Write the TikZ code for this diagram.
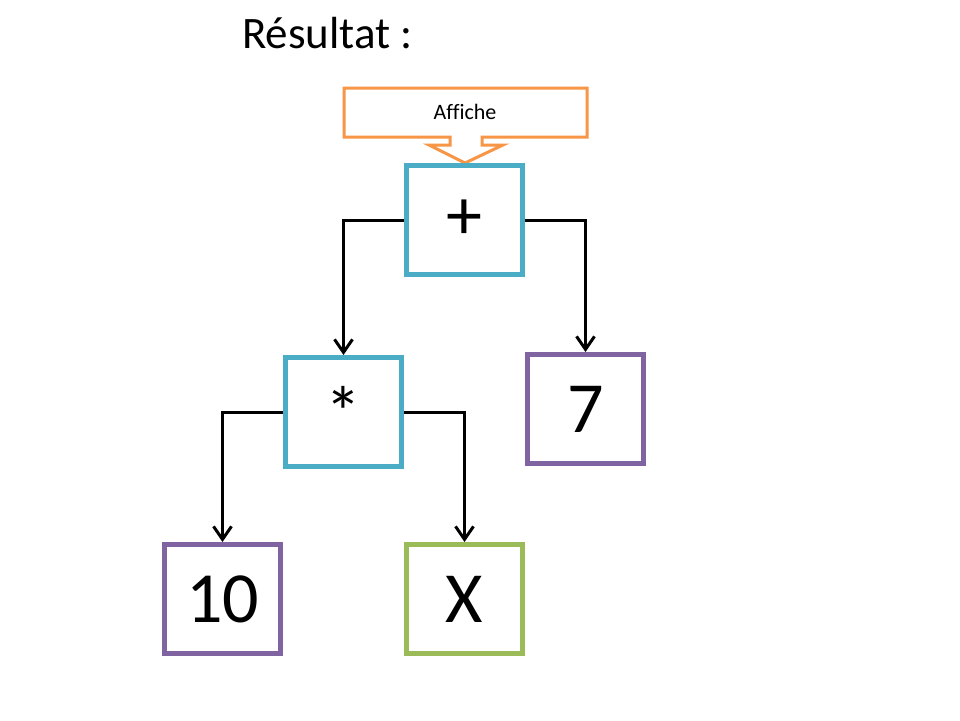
\documentclass[tikz,border=0pt]{standalone}
\usepackage{fontspec}
\setmainfont{Carlito}
\usetikzlibrary{arrows.meta}
\definecolor{boxblue}{HTML}{4BACC6}
\definecolor{boxpurple}{HTML}{8064A2}
\definecolor{boxgreen}{HTML}{9BBB59}
\definecolor{calloutorange}{HTML}{F79646}
\tikzset{
  treebox/.style={draw, line width=5pt, line join=miter, minimum width=116pt, minimum height=109pt, inner sep=0pt, font=\fontsize{72}{80}\selectfont, fill=white},
  opbox/.style={treebox, draw=boxblue},
  numbox/.style={treebox, draw=boxpurple},
  varbox/.style={treebox, draw=boxgreen},
  conn/.style={draw=black, line width=3pt, line join=miter, -{Straight Barb[length=13pt,width=18pt,line width=3pt]}},
  callout/.style={draw=calloutorange, line width=3pt, line join=miter, fill=white}
}
\begin{document}
\begin{tikzpicture}[x=1pt,y=-1pt]
\useasboundingbox[fill=white] (0,0) rectangle (960,720);
\node[anchor=base west, inner sep=0pt, font=\fontsize{45}{52}\selectfont] (title) at (242,48) {Résultat :};
\draw[callout] (344,88) -- (587,88) -- (587,137) -- (482,137) -- (482,145) -- (503,145) -- (465,163) -- (429,145) -- (450,145) -- (450,137) -- (344,137) -- cycle;
\node[font=\fontsize{22}{26}\selectfont\addfontfeatures{Ligatures=NoCommon}, inner sep=0pt] (affiche) at (465,112) {Affiche};
\node[opbox] (plus) at (464.5,220) {+};
\node[opbox] (star) at (343.5,412) {*};
\node[numbox] (seven) at (585.5,409) {7};
\node[numbox] (ten) at (222.5,599) {10};
\node[varbox] (xvar) at (464.5,599) {X};
\draw[conn] (plus.west) -| (star.north);
\draw[conn] (plus.east) -| (seven.north);
\draw[conn] (star.west) -| (ten.north);
\draw[conn] (star.east) -| (xvar.north);
\end{tikzpicture}
\end{document}
